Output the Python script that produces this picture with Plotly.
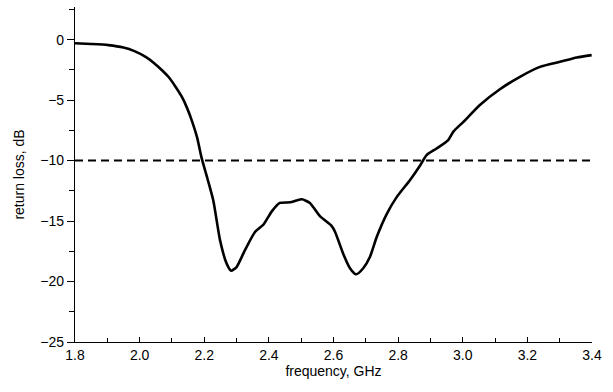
import plotly.graph_objects as go

freq_ghz = [1.80, 1.85, 1.903, 1.95, 1.984, 2.02, 2.046, 2.07, 2.089, 2.11, 2.130, 2.146, 2.161, 2.178, 2.192,
            2.210, 2.228, 2.249, 2.269, 2.283, 2.300, 2.326, 2.357, 2.383, 2.409, 2.434, 2.466, 2.485,
            2.502, 2.527, 2.558, 2.594, 2.605, 2.630, 2.651, 2.670, 2.692, 2.713, 2.734, 2.765, 2.796,
            2.837, 2.868, 2.888, 2.919, 2.955, 2.971, 3.002, 3.053, 3.115, 3.177, 3.239, 3.301, 3.353, 3.399]
return_loss_db = [-0.30, -0.36, -0.45, -0.65, -0.95, -1.45, -1.97, -2.55, -3.07, -3.85, -4.70, -5.60, -6.65, -8.10, -9.80,
                  -11.50, -13.30, -16.60, -18.50, -19.10, -18.80, -17.40, -15.90, -15.30, -14.20, -13.50, -13.45, -13.30,
                  -13.20, -13.50, -14.60, -15.40, -15.90, -17.70, -18.90, -19.40, -18.90, -17.95, -16.30, -14.40, -13.00,
                  -11.60, -10.40, -9.55, -9.00, -8.30, -7.60, -6.80, -5.40, -4.10, -3.07, -2.25, -1.83, -1.47, -1.28]
threshold_x = [1.8, 3.4]
threshold_y = [-10, -10]

x_ticks = [1.8, 2.0, 2.2, 2.4, 2.6, 2.8, 3.0, 3.2, 3.4]
y_ticks = [0, -5, -10, -15, -20, -25]

fig = go.Figure()
fig.add_trace(go.Scatter(x=threshold_x, y=threshold_y, mode="lines",
                         line=dict(color="black", width=2, dash="8px,5px"), showlegend=False))
fig.add_trace(go.Scatter(x=freq_ghz, y=return_loss_db, mode="lines",
                         line=dict(color="black", width=2.6, shape="spline", smoothing=0.6), showlegend=False))

font = dict(family="Liberation Sans, Arial, sans-serif", size=14, color="black")
fig.update_layout(
    template="none",
    width=613, height=392,
    margin=dict(l=75, r=21, t=7, b=50, autoexpand=False),
    paper_bgcolor="white", plot_bgcolor="white",
    font=font,
    xaxis=dict(range=[1.8, 3.4], tickvals=x_ticks, tickformat=".1f", automargin=False,
               showline=True, linecolor="black", linewidth=1.2,
               ticks="inside", ticklen=5, tickwidth=1.2, tickcolor="black",
               minor=dict(dtick=0.1, ticks="inside", ticklen=4, tickwidth=1, tickcolor="black"),
               showgrid=False, zeroline=False,
               title=dict(text="frequency, GHz", standoff=2, font=font)),
    yaxis=dict(range=[-25, 2.7], tickvals=y_ticks, automargin=False,
               showline=True, linecolor="black", linewidth=1.2,
               ticks="outside", ticklen=7, tickwidth=1.2, tickcolor="black",
               minor=dict(dtick=2.5, ticks="outside", ticklen=5, tickwidth=1, tickcolor="black"),
               showgrid=False, zeroline=False,
               title=dict(text="return loss, dB", standoff=12, font=font)),
)

fig.write_html("out.html", config={"displayModeBar": False},
               post_script="document.body.style.margin='0';document.body.style.overflow='hidden';")
